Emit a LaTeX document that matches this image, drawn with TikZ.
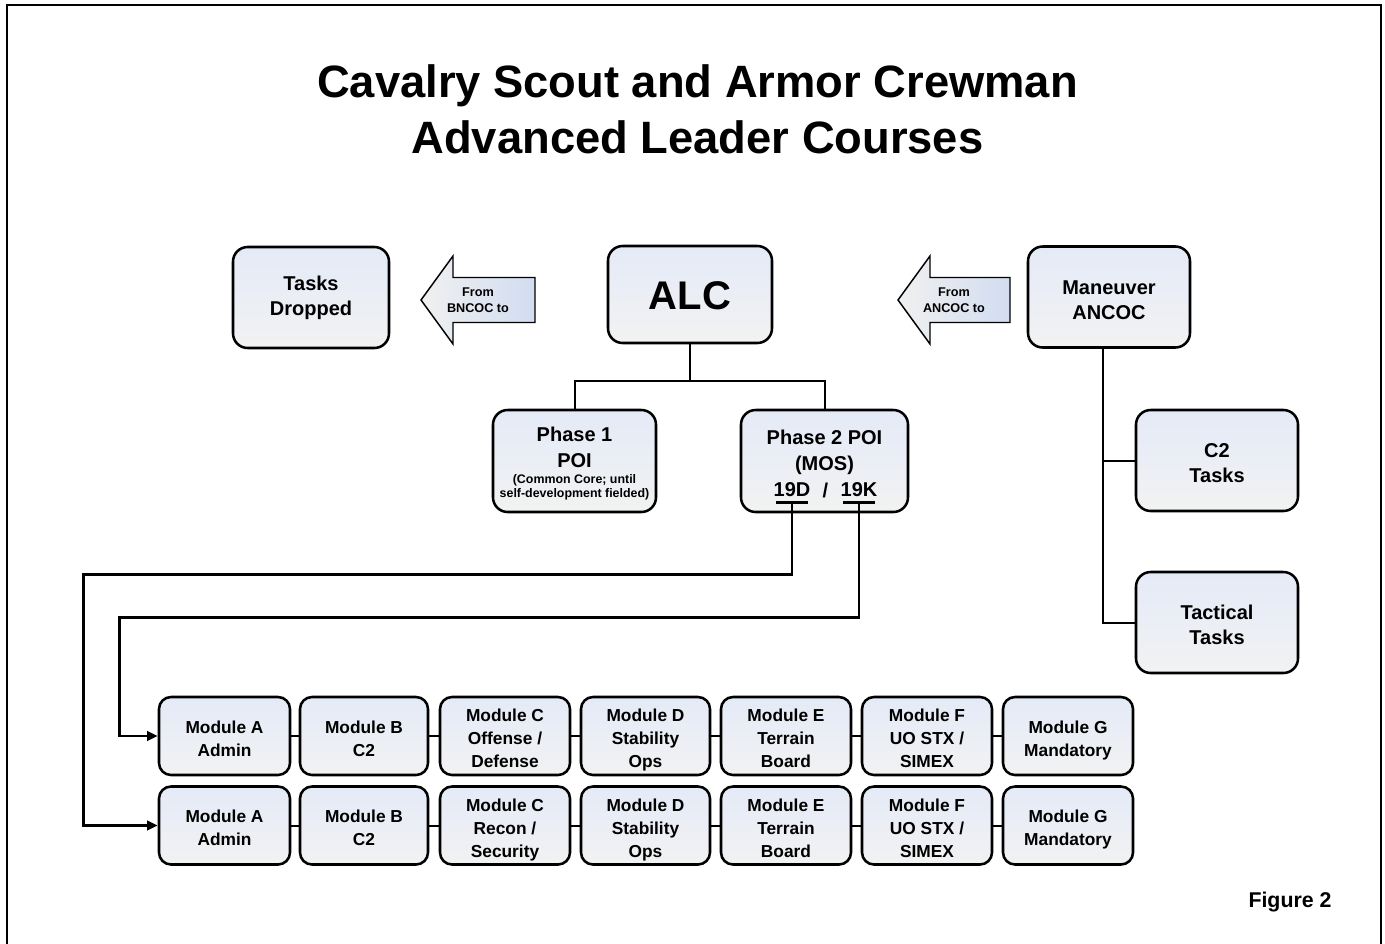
\documentclass[tikz,border=0pt]{standalone}
\usepackage{fontspec}
\setmainfont{Liberation Sans}
\usetikzlibrary{arrows.meta,calc}
\definecolor{boxtop}{RGB}{228,234,247}
\definecolor{boxmid}{RGB}{216,217,220}
\definecolor{boxbot}{RGB}{242,242,242}
\definecolor{arrleft}{RGB}{240,240,240}
\definecolor{arrright}{RGB}{210,221,241}
\newcommand\firstln{\vrule height 1.2em depth 0pt width 0pt}
\newcommand\mybotst{\vrule height 0pt depth 0.21em width 0pt}
\newcommand\myalcst{\vrule height 0.95em depth 0.21em width 0pt}
\begin{document}
\begin{tikzpicture}[x=0.75pt,y=-0.75pt,
  box/.style={draw,line width=1.9pt,rounded corners=11pt,top color=boxtop,middle color=boxmid,bottom color=boxbot,
    align=center,inner sep=0pt,font=\bfseries\fontsize{15}{18.75}\selectfont,
    execute at end node=\mybotst},
  bigbox/.style={box,minimum width=121.5pt,minimum height=75.75pt},
  modbox/.style={box,rounded corners=9pt,minimum width=97.5pt,minimum height=58.5pt,
    font=\bfseries\fontsize{13}{17.25}\selectfont},
  txt/.style={align=center,inner sep=0pt,font=\bfseries\fontsize{15}{19.5}\selectfont},
  small/.style={align=center,inner sep=0pt,font=\bfseries\fontsize{9.3}{10.5}\selectfont},
  arrtxt/.style={align=center,inner sep=0pt,font=\bfseries\fontsize{9.5}{12}\selectfont},
  titletxt/.style={inner sep=0pt,anchor=base,font=\bfseries\fontsize{34}{42}\selectfont},
  bigarrow/.style={draw,line width=1.1pt,left color=arrleft,right color=arrright},
  conn/.style={line width=1.5pt},
  link/.style={line width=2.2pt,-{Triangle[length=8pt,width=7pt]}},
  bar/.style={line width=2.4pt}
]
\useasboundingbox (0,0) rectangle (1385,943);
% outer frame
\draw[line width=1.6pt] (7,946) -- (7,5) -- (1381,5) -- (1381,946);

% title
\node[titletxt] (t1) at (697.5,97) {Cavalry Scout and Armor Crewman};
\node[titletxt] (t2) at (697.5,153) {Advanced Leader Courses};

% top row
\node[bigbox,minimum width=117pt] (td) at (311,297.5) {Tasks\\Dropped};
\node[bigbox,minimum width=123pt,minimum height=72.75pt,font=\bfseries\fontsize{30}{36}\selectfont,
  execute at begin node=\myalcst] (alc) at (690,294.5) {ALC};
\node[bigbox] (man) at (1109,297) {\firstln Maneuver\\ANCOC};

% block arrows
\coordinate (bnTip) at (421,300);
\draw[bigarrow] (bnTip) -- ++(32,-44) -- ++(0,21.5) -- ++(82,0) -- ++(0,45) -- ++(-82,0) -- ++(0,21.5) -- cycle;
\node[arrtxt] (bn) at (478,300) {From\\BNCOC to};
\coordinate (anTip) at (898,300);
\draw[bigarrow] (anTip) -- ++(32,-44) -- ++(0,21.5) -- ++(80,0) -- ++(0,45) -- ++(-80,0) -- ++(0,21.5) -- cycle;
\node[arrtxt] (an) at (954,300) {From\\ANCOC to};

% phases
\node[bigbox,minimum width=122.25pt,minimum height=76.5pt] (p1) at (574.5,461) {};
\node[txt] (p1a) at (574.5,447.5) {Phase 1\\POI};
\node[small] (p1b) at (574.5,487) {(Common Core; until\\self-development fielded)};
\node[bigbox,minimum width=125.25pt,minimum height=76.5pt] (p2) at (824.5,461) {};
\node[txt] (p2a) at (824.5,452.5) {Phase 2 POI\\(MOS)};
\node[txt] (n19d) at (792,490) {19D};
\node[txt] (sl) at (825.5,490) {/};
\node[txt] (n19k) at (859,490) {19K};
\coordinate (u19d) at ($(n19d.south)+(0,5)$);
\coordinate (u19k) at ($(n19k.south)+(0,5)$);
\draw[bar] ($(u19d)+(-16,0)$) -- ($(u19d)+(16,0)$);
\draw[bar] ($(u19k)+(-16,0)$) -- ($(u19k)+(16,0)$);

\draw[conn] (alc.south) -- ++(0,37) -| (p1.north);
\draw[conn] (alc.south) -- ++(0,37) -| (p2.north);

% right column
\node[bigbox] (c2) at (1217,460.5) {\firstln C2\\Tasks};
\node[bigbox] (tac) at (1217,622.5) {\firstln Tactical\\Tasks};
\draw[conn] ([xshift=-4.5pt]man.south) |- (tac.west);
\draw[conn] (c2.west) -- ++(-33,0);

% modules row 1
\node[modbox,minimum width=98.25pt] (mA1) at (224.5,736) {\firstln Module A\\Admin};
\node[modbox,minimum width=96pt] (mB1) at (364,736) {\firstln Module B\\C2};
\node[modbox] (mC1) at (505,736) {\firstln Module C\\Offense /\\Defense};
\node[modbox,minimum width=96.75pt] (mD1) at (645.5,736) {\firstln Module D\\Stability\\Ops};
\node[modbox] (mE1) at (786,736) {\firstln Module E\\Terrain\\Board};
\node[modbox] (mF1) at (927,736) {\firstln Module F\\UO STX /\\SIMEX};
\node[modbox] (mG1) at (1068,736) {\firstln Module G\\Mandatory};
% modules row 2
\node[modbox,minimum width=98.25pt] (mA2) at (224.5,825.5) {\firstln Module A\\Admin};
\node[modbox,minimum width=96pt] (mB2) at (364,825.5) {\firstln Module B\\C2};
\node[modbox] (mC2) at (505,825.5) {\firstln Module C\\Recon /\\Security};
\node[modbox,minimum width=96.75pt] (mD2) at (645.5,825.5) {\firstln Module D\\Stability\\Ops};
\node[modbox] (mE2) at (786,825.5) {\firstln Module E\\Terrain\\Board};
\node[modbox] (mF2) at (927,825.5) {\firstln Module F\\UO STX /\\SIMEX};
\node[modbox] (mG2) at (1068,825.5) {\firstln Module G\\Mandatory};

\foreach \r in {1,2}{
  \draw[conn] (mA\r) -- (mB\r);
  \draw[conn] (mB\r) -- (mC\r);
  \draw[conn] (mC\r) -- (mD\r);
  \draw[conn] (mD\r) -- (mE\r);
  \draw[conn] (mE\r) -- (mF\r);
  \draw[conn] (mF\r) -- (mG\r);
}

% links from 19D / 19K
\draw[link] (u19d) -- ++(0,72) -| ($(mA2.west)+(-74,0)$) -- (mA2.west);
\draw[link] (u19k) -- ++(0,115) -| ($(mA1.west)+(-38,0)$) -- (mA1.west);

% figure label
\node[inner sep=0pt,anchor=base,font=\bfseries\fontsize{16}{19}\selectfont] (fig) at (1290,907) {Figure 2};
\end{tikzpicture}
\end{document}
